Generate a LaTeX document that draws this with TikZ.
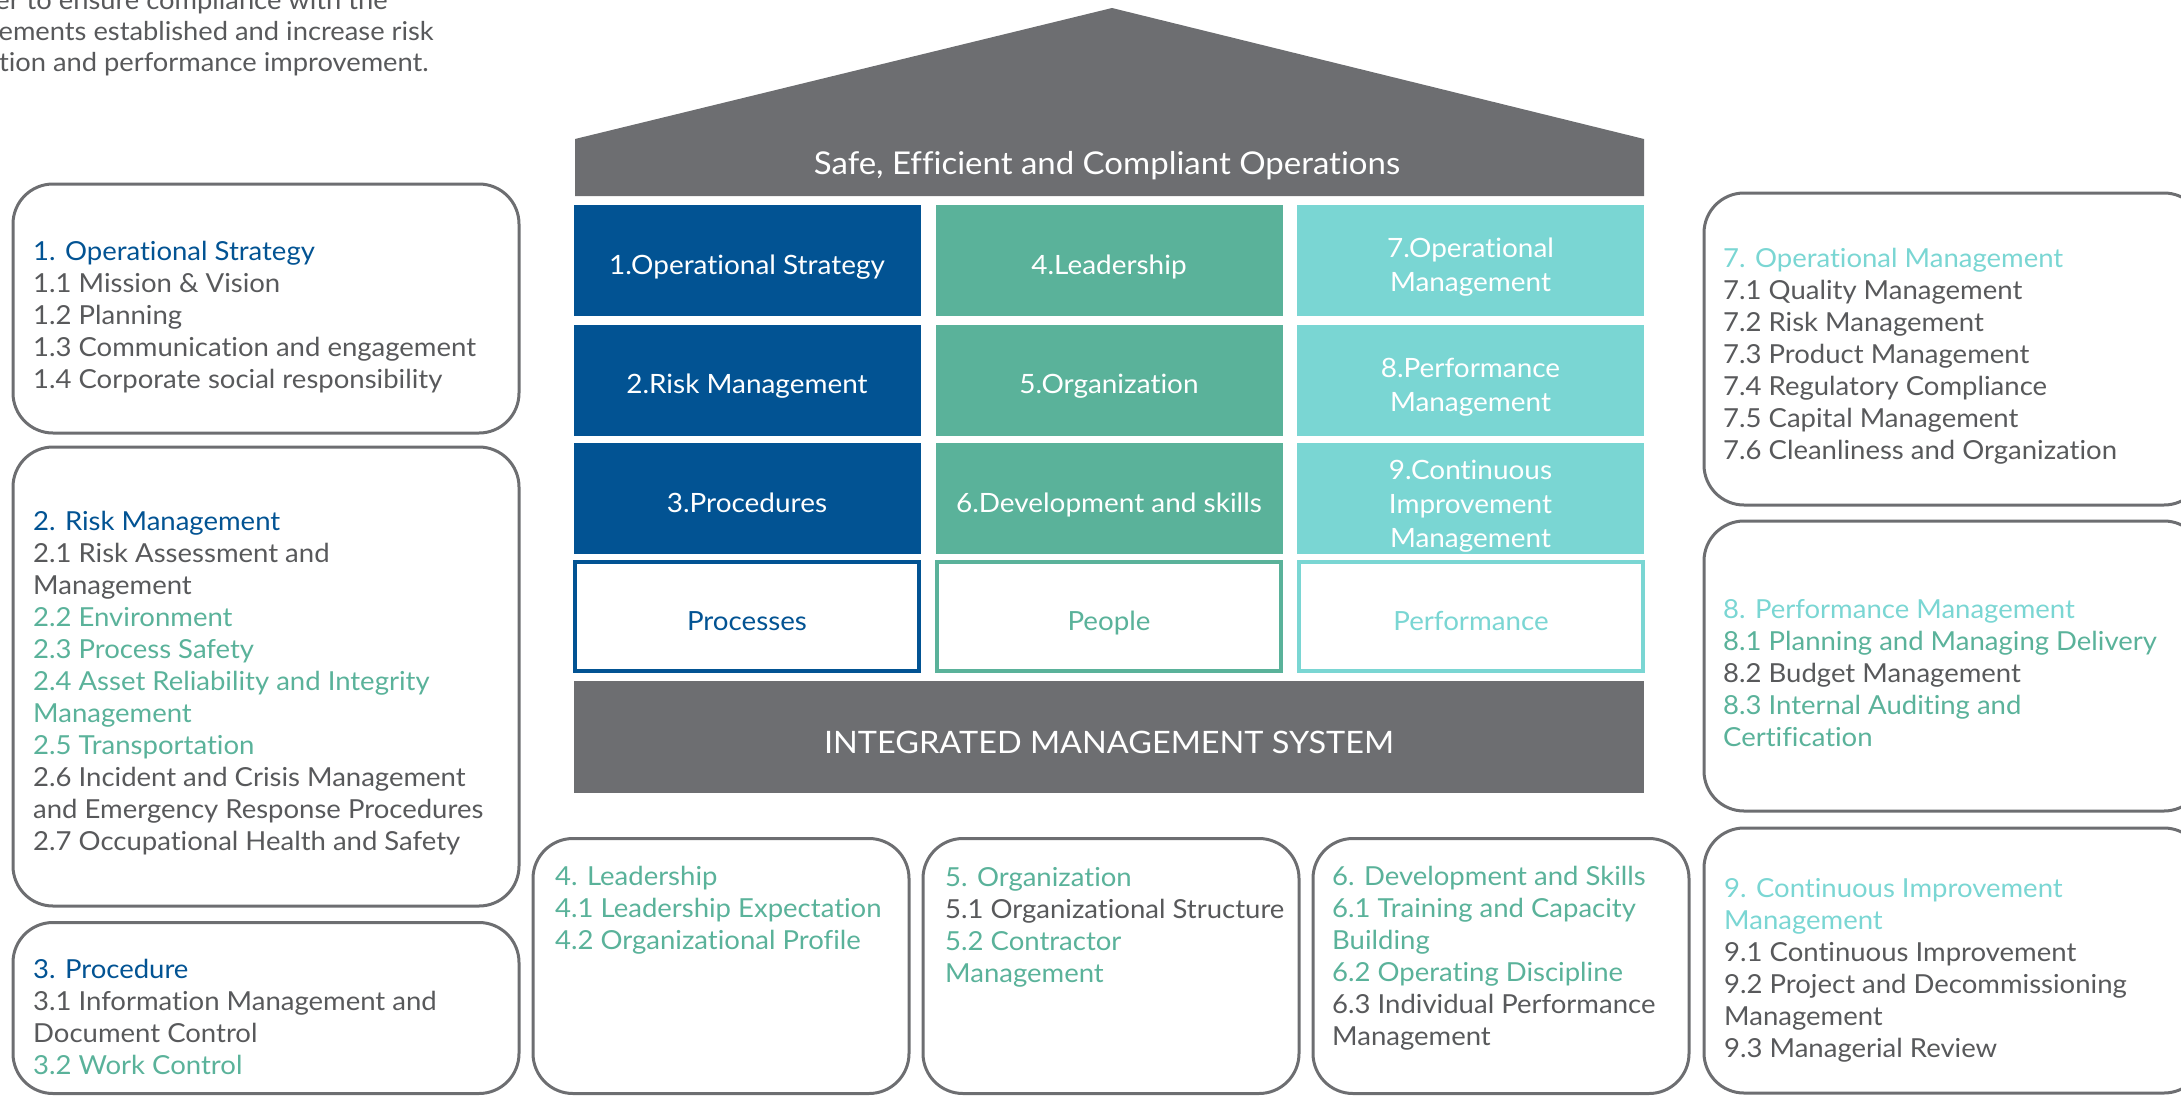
\documentclass[tikz,border=0pt]{standalone}
\usepackage{fontspec}
\setmainfont[FakeStretch=1.05, Ligatures=CommonOff]{Lato}
\definecolor{roofgray}{HTML}{6D6E71}
\definecolor{pblue}{HTML}{025393}
\definecolor{pgreen}{HTML}{5AB29A}
\definecolor{pteal}{HTML}{7AD6D3}
\definecolor{txtgray}{HTML}{58595B}
\definecolor{linegray}{HTML}{6D6E71}
\newcommand{\hdblue}[1]{\textcolor{pblue}{#1}}
\newcommand{\hdgreen}[1]{\textcolor{pgreen}{#1}}
\newcommand{\hdteal}[1]{\textcolor{pteal}{#1}}
\begin{document}
\begin{tikzpicture}[x=1pt,y=-1pt,
  cell/.style={minimum width=347, minimum height=111, inner sep=0},
  celltext/.style={text=white, align=center, inner sep=0, font=\fontsize{26.6}{34}\selectfont},
  basebox/.style={fill=white, line width=3.5, minimum width=344, minimum height=109, inner sep=0},
  basetext/.style={inner sep=0, font=\fontsize{26.4}{34}\selectfont},
  card/.style={draw=linegray, line width=3, rounded corners=40, inner sep=0},
  cardtext/.style={text=txtgray, align=left, inner sep=0, font=\fontsize{26.2}{32}\selectfont},
  para/.style={text=txtgray, inner sep=0, font=\fontsize{26}{32}\selectfont}]
\useasboundingbox (0,0) rectangle (2181,1095);

% introductory paragraph (runs off the left edge)
\node[para, anchor=base east] (p1) at (388,9) {er to ensure compliance with the};
\node[para, anchor=base east] (p2) at (434,40) {ements established and increase risk};
\node[para, anchor=base east] (p3) at (429,71) {tion and performance improvement.};

% roof
\fill[roofgray] (575,196) -- (575,139) -- (1112,8) -- (1644,139) -- (1644,196) -- cycle;
\node[text=white, inner sep=0, anchor=base, font=\fontsize{31.4}{34}\selectfont] (roof) at (1107,174) {Safe, Efficient and Compliant Operations};

% pillars
\node[cell, fill=pblue]  (a1) at (747,260.5) {};
\node[cell, fill=pblue]  (a2) at (747,380) {};
\node[cell, fill=pblue]  (a3) at (747,498.5) {};
\node[cell, fill=pgreen] (b1) at (1109,260.5) {};
\node[cell, fill=pgreen] (b2) at (1109,380) {};
\node[cell, fill=pgreen] (b3) at (1109,498.5) {};
\node[cell, fill=pteal]  (c1) at (1470.5,260.5) {};
\node[cell, fill=pteal]  (c2) at (1470.5,380) {};
\node[cell, fill=pteal]  (c3) at (1470.5,498.5) {};

\node[celltext, anchor=base] (a1t) at (a1 |- 0,274) {1.Operational Strategy};
\node[celltext, anchor=base] (a2t) at (a2 |- 0,393) {2.Risk Management};
\node[celltext, anchor=base] (a3t) at (a3 |- 0,512) {3.Procedures};
\node[celltext, anchor=base] (b1t) at (b1 |- 0,274) {4.Leadership};
\node[celltext, anchor=base] (b2t) at (b2 |- 0,393) {5.Organization};
\node[celltext, anchor=base] (b3t) at (b3 |- 0,512) {6.Development and skills};
\node[celltext] (c1t) at (1470.5,267) {7.Operational\\Management};
\node[celltext] (c2t) at (1470.5,387) {8.Performance\\Management};
\node[celltext] (c3t) at (1470.5,506) {9.Continuous\\Improvement\\Management};

% foundation labels
\node[basebox, draw=pblue]  (a4) at (747,616.5) {};
\node[basebox, draw=pgreen] (b4) at (1109,616.5) {};
\node[basebox, draw=pteal]  (c4) at (1471,616.5) {};
\node[basetext, text=pblue, anchor=base]  (a4t) at (a4 |- 0,630) {Processes};
\node[basetext, text=pgreen, anchor=base] (b4t) at (b4 |- 0,630) {People};
\node[basetext, text=pteal, anchor=base]  (c4t) at (c4 |- 0,630) {Performance};

% base of the house
\node[fill=roofgray, minimum width=1070, minimum height=112, inner sep=0] (ims) at (1109,737) {};
\node[text=white, inner sep=0, anchor=base, font=\fontsize{30.9}{34}\selectfont] (imst) at (1109,753) {INTEGRATED MANAGEMENT SYSTEM};

% detail cards, left column
\node[card, minimum width=506, minimum height=249] (k1) at (266,308.5) {};
\node[cardtext, anchor=west] (k1t) at (33,317) {\hdblue{1. Operational Strategy}\\
1.1 Mission \& Vision\\
1.2 Planning\\
1.3 Communication and engagement\\
1.4 Corporate social responsibility};

\node[card, minimum width=506, minimum height=459] (k2) at (266,676.5) {};
\node[cardtext, anchor=west] (k2t) at (33,683.5) {\hdblue{2. Risk Management}\\
2.1 Risk Assessment and\\
Management\\
\hdgreen{2.2 Environment}\\
\hdgreen{2.3 Process Safety}\\
\hdgreen{2.4 Asset Reliability and Integrity}\\
\hdgreen{Management}\\
\hdgreen{2.5 Transportation}\\
2.6 Incident and Crisis Management\\
and Emergency Response Procedures\\
2.7 Occupational Health and Safety};

\node[card, minimum width=506, minimum height=171] (k3) at (266,1008) {};
\node[cardtext, anchor=west] (k3t) at (33,1016.5) {\hdblue{3. Procedure}\\
3.1 Information Management and\\
Document Control\\
\hdgreen{3.2 Work Control}};

% detail cards, bottom row
\node[card, minimum width=376, minimum height=255] (k4) at (721,966) {};
\node[cardtext, anchor=west] (k4t) at (555,910.5) {\hdgreen{4. Leadership}\\
\hdgreen{4.1 Leadership Expectation}\\
\hdgreen{4.2 Organizational Profile}};

\node[card, minimum width=376, minimum height=255] (k5) at (1111,966) {};
\node[cardtext, anchor=west] (k5t) at (945,927) {\hdgreen{5. Organization}\\
5.1 Organizational Structure\\
\hdgreen{5.2 Contractor}\\
\hdgreen{Management}};

\node[card, minimum width=376, minimum height=255] (k6) at (1501,966) {};
\node[cardtext, anchor=west] (k6t) at (1332,958.5) {\hdgreen{6. Development and Skills}\\
\hdgreen{6.1 Training and Capacity}\\
\hdgreen{Building}\\
\hdgreen{6.2 Operating Discipline}\\
6.3 Individual Performance\\
Management};

% detail cards, right column (run off the right edge)
\node[card, minimum width=500, minimum height=312] (k7) at (1954,349) {};
\node[cardtext, anchor=west] (k7t) at (1723,356.5) {\hdteal{7. Operational Management}\\
7.1 Quality Management\\
7.2 Risk Management\\
7.3 Product Management\\
7.4 Regulatory Compliance\\
7.5 Capital Management\\
7.6 Cleanliness and Organization};

\node[card, minimum width=500, minimum height=290] (k8) at (1954,666) {};
\node[cardtext, anchor=west] (k8t) at (1723,673) {\hdteal{8. Performance Management}\\
\hdgreen{8.1 Planning and Managing Delivery}\\
8.2 Budget Management\\
\hdgreen{8.3 Internal Auditing and}\\
\hdgreen{Certification}};

\node[card, minimum width=500, minimum height=265] (k9) at (1954,960.5) {};
\node[cardtext, anchor=west] (k9t) at (1724,970) {\hdteal{9. Continuous Improvement}\\
\hdteal{Management}\\
9.1 Continuous Improvement\\
9.2 Project and Decommissioning\\
Management\\
9.3 Managerial Review};
\end{tikzpicture}
\end{document}
